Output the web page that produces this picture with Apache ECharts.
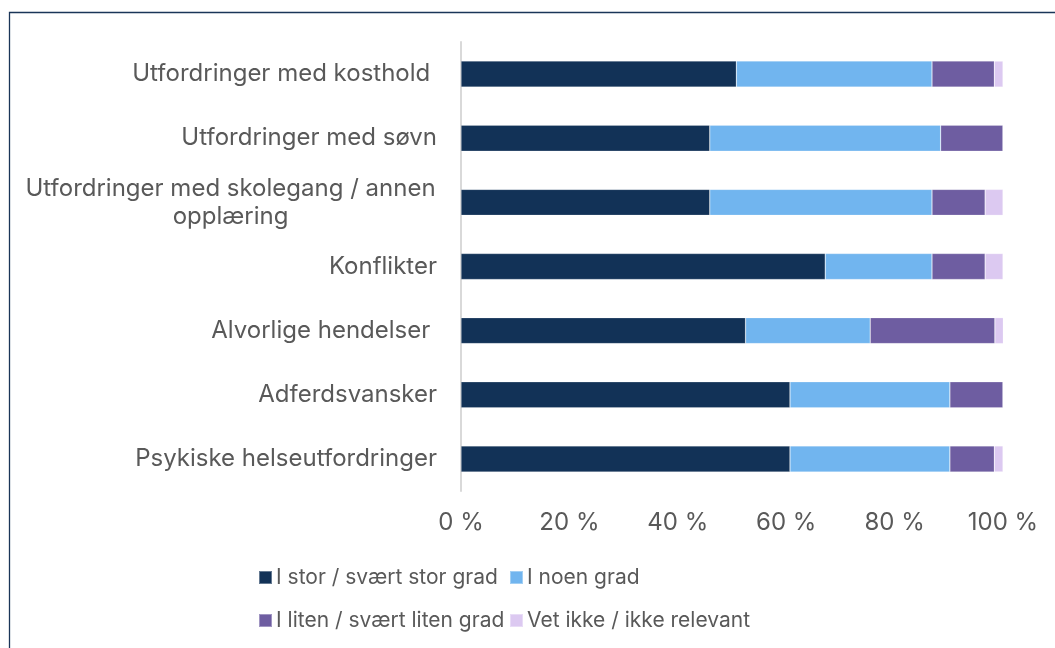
<!DOCTYPE html>
<html>
<head>
<meta charset="utf-8">
<script src="https://cdn.jsdelivr.net/npm/echarts@6/dist/echarts.min.js"></script>
<style>
html,body{margin:0;padding:0;background:#fff;}
#chart{width:1055px;height:648px;}
</style>
</head>
<body>
<div id="chart"></div>
<script>
const categories = [
  'Utfordringer med kosthold ',
  'Utfordringer med søvn',
  'Utfordringer med skolegang / annen\nopplæring',
  'Konflikter',
  'Alvorlige hendelser ',
  'Adferdsvansker',
  'Psykiske helseutfordringer'
];
const seriesNames = ['I stor / svært stor grad', 'I noen grad', 'I liten / svært liten grad', 'Vet ikke / ikke relevant'];
const storGrad = [50.8, 45.9, 45.9, 67.2, 52.5, 60.7, 60.7];
const noenGrad = [36.1, 42.6, 41.0, 19.7, 23.0, 29.5, 29.5];
const litenGrad = [11.5, 11.5, 9.8, 9.8, 23.0, 9.8, 8.2];
const vetIkke = [1.6, 0, 3.3, 3.3, 1.6, 0, 1.6];
const xTicks = [0, 20, 40, 60, 80, 100];

const colors = ['#123257', '#71b5ef', '#6e5da1', '#dcc9f1'];
const FONT = 'Inter, "Noto Sans", sans-serif';
const FS = 24;
const LFS = 21;
const textColor = '#595959';

const cv = document.createElement('canvas').getContext('2d');
cv.font = FS + 'px ' + FONT;
let labelW = 412;
function fmt(v) {
  if (v.indexOf('\n') < 0) return v;
  return v.split('\n').map(l => '{c|' + l + '}').join('\n');
}
categories.forEach(c => {
  if (c.indexOf('\n') >= 0) {
    let w = 0;
    c.split('\n').forEach(l => { w = Math.max(w, cv.measureText(l).width); });
    labelW = Math.ceil(w) + 2;
  }
});

const data = [storGrad, noenGrad, litenGrad, vetIkke];
const chart = echarts.init(document.getElementById('chart'), null, {renderer: 'canvas'});
const legendPos = [[258, 567], [509, 567], [258, 610], [509, 610]];
chart.setOption({
  animation: false,
  backgroundColor: '#fff',
  color: colors,
  textStyle: {fontFamily: FONT},
  graphic: [{
    type: 'rect',
    shape: {x: 9.5, y: 12.5, width: 1100, height: 700},
    style: {fill: 'none', stroke: '#1a3558', lineWidth: 1.3}
  }],
  grid: {left: 461, right: 52, top: 42, bottom: 157},
  legend: seriesNames.map((n, i) => ({
    data: [n],
    left: legendPos[i][0],
    top: legendPos[i][1],
    padding: 0,
    itemWidth: 13,
    itemHeight: 13,
    itemGap: 4,
    icon: 'rect',
    textStyle: {fontSize: LFS, color: textColor, fontFamily: FONT, padding: [0, 0, 0, -1]}
  })),
  xAxis: {
    type: 'value',
    min: 0,
    max: 100,
    interval: 20,
    axisLine: {show: false},
    axisTick: {show: false},
    splitLine: {show: false},
    axisLabel: {
      fontSize: FS, color: textColor, fontFamily: FONT, margin: 20,
      formatter: v => xTicks.indexOf(v) >= 0 ? v + ' %' : ''
    }
  },
  yAxis: {
    type: 'category',
    data: categories,
    inverse: true,
    axisLine: {show: true, lineStyle: {color: '#d9d9d9', width: 2}},
    axisTick: {show: false},
    axisLabel: {
      fontSize: FS, color: textColor, fontFamily: FONT, margin: 24, lineHeight: 28,
      formatter: fmt,
      rich: {c: {fontSize: FS, color: textColor, fontFamily: FONT, width: labelW, align: 'center', lineHeight: 28}}
    }
  },
  series: seriesNames.map((n, i) => ({
    name: n,
    type: 'bar',
    stack: 'total',
    barWidth: 26,
    data: data[i],
    itemStyle: {color: colors[i], borderColor: 'rgba(255,255,255,0.35)', borderWidth: 0.6}
  }))
});
</script>
</body>
</html>
